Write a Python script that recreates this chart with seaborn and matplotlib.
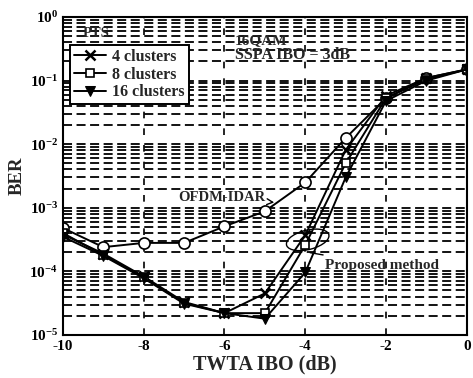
import numpy as np
import pandas as pd
import matplotlib
matplotlib.use("Agg")
import matplotlib.pyplot as plt
import seaborn as sns
from matplotlib.patches import Ellipse
from matplotlib.ticker import FixedLocator, LogLocator, NullFormatter

# TWTA input back-off (dB)
ibo = [-10, -9, -8, -7, -6, -5, -4, -3, -2, -1, 0]

# BER curves
ber_ofdm_idar = [4.8e-4, 2.4e-4, 2.8e-4, 2.8e-4, 5.1e-4, 8.8e-4, 2.5e-3, 1.25e-2, 5.3e-2, 1.1e-1, 1.5e-1]
ber_4_clusters = [3.8e-4, 1.9e-4, 8.3e-5, 3.3e-5, 2.2e-5, 4.5e-5, 3.7e-4, 8.1e-3, 5.8e-2, 1.1e-1, 1.5e-1]
ber_8_clusters = [4.0e-4, 1.8e-4, 8.0e-5, 3.2e-5, 2.2e-5, 2.2e-5, 2.6e-4, 5.0e-3, 5.3e-2, 1.05e-1, 1.5e-1]
ber_16_clusters = [3.5e-4, 1.75e-4, 7.8e-5, 3.1e-5, 2.2e-5, 1.8e-5, 9.6e-5, 3.0e-3, 4.8e-2, 1.0e-1, 1.5e-1]

series_labels = ["4 clusters", "8 clusters", "16 clusters"]
x_ticks = [-10, -8, -6, -4, -2, 0]
y_ticks = [1e-5, 1e-4, 1e-3, 1e-2, 1e-1, 1e0]
y_tick_labels = [r"$\mathbf{10^{-5}}$", r"$\mathbf{10^{-4}}$", r"$\mathbf{10^{-3}}$",
                 r"$\mathbf{10^{-2}}$", r"$\mathbf{10^{-1}}$", r"$\mathbf{10^{0}}$"]

sns.set_style("white")
plt.rcParams["font.family"] = ["Liberation Serif", "DejaVu Serif"]
plt.rcParams["mathtext.fontset"] = "custom"
plt.rcParams["mathtext.rm"] = "Liberation Serif"
plt.rcParams["mathtext.bf"] = "Liberation Serif:bold"

fig = plt.figure(figsize=(4.73, 3.78), dpi=100)
ax = fig.add_axes([0.133, 0.114, 0.854, 0.841])

# grid drawn beneath the curves
ax.set_yscale("log")
ax.set_xlim(-10, 0)
ax.set_ylim(1e-5, 1e0)
ax.yaxis.set_major_locator(FixedLocator(y_ticks))
ax.yaxis.set_minor_locator(LogLocator(base=10, subs=np.arange(2, 10), numticks=20))
ax.yaxis.set_minor_formatter(NullFormatter())
ax.set_axisbelow(True)
ax.grid(True, which="both", axis="y", color="black", linestyle=(0, (5, 2.5)), linewidth=1.3)
ax.grid(True, which="major", axis="x", color="black", linestyle=(0, (4, 6)), linewidth=1.2)

df = pd.DataFrame({"ibo": ibo, "OFDM-IDAR": ber_ofdm_idar,
                   series_labels[0]: ber_4_clusters,
                   series_labels[1]: ber_8_clusters,
                   series_labels[2]: ber_16_clusters})

line_kw = dict(color="black", linewidth=1.4, ax=ax)
sns.lineplot(data=df, x="ibo", y="OFDM-IDAR", marker="o", markersize=8,
             markerfacecolor="white", markeredgecolor="black", markeredgewidth=1.2,
             legend=False, **line_kw)
sns.lineplot(data=df, x="ibo", y=series_labels[0], marker="x", markersize=7,
             markeredgecolor="black", markeredgewidth=1.8, label=series_labels[0], **line_kw)
sns.lineplot(data=df, x="ibo", y=series_labels[1], marker="s", markersize=6,
             markerfacecolor="white", markeredgecolor="black", markeredgewidth=1.2,
             label=series_labels[1], **line_kw)
sns.lineplot(data=df, x="ibo", y=series_labels[2], marker="v", markersize=7,
             markerfacecolor="black", markeredgecolor="black",
             label=series_labels[2], **line_kw)

ax.set_xticks(x_ticks)
ax.set_xticklabels([str(t) for t in x_ticks], fontweight="bold", fontsize=11)
ax.set_yticks(y_ticks)
ax.set_yticklabels(y_tick_labels, fontsize=11)
ax.tick_params(axis="both", which="major", direction="in", length=4, width=1.2, colors="black")
ax.tick_params(axis="y", which="minor", left=False)
ax.set_xlabel("TWTA IBO (dB)", fontsize=14.5, fontweight="bold", labelpad=1)
ax.set_ylabel("BER", fontsize=13.5, fontweight="bold", labelpad=3)
for sp in ax.spines.values():
    sp.set_color("black")
    sp.set_linewidth(1.5)

leg = ax.legend(loc="upper left", bbox_to_anchor=(0.017, 0.912), borderaxespad=0,
                prop={"weight": "bold", "size": 11.5}, frameon=True, fancybox=False,
                handlelength=2.0, labelspacing=0.1, borderpad=0.25, handletextpad=0.4)
leg.get_frame().set_edgecolor("black")
leg.get_frame().set_linewidth(1.4)
leg.get_frame().set_alpha(1)

# annotations
ax.text(-9.5, 0.56, "PTS", fontsize=10.5, fontweight="bold", va="center", ha="left")
ax.text(-5.75, 0.43, "16QAM", fontsize=11, fontweight="bold", va="center", ha="left")
ax.text(-5.75, 0.25, "SSPA IBO = 3dB", fontsize=11.5, fontweight="bold", va="center", ha="left")
ax.annotate("OFDM-IDAR", xy=(-4.7, 1.2e-3), xytext=(-7.15, 1.47e-3),
            fontsize=10.5, fontweight="bold", va="center", ha="left",
            arrowprops=dict(arrowstyle="->", color="black", lw=1.0))
ax.add_patch(Ellipse((0.606, 0.299), 0.11, 0.06, angle=20, transform=ax.transAxes,
                     fill=False, edgecolor="black", linewidth=1.0))
ax.annotate("Proposed method", xy=(-3.95, 2.0e-4), xytext=(-3.5, 1.25e-4),
            fontsize=11, fontweight="bold", va="center", ha="left",
            arrowprops=dict(arrowstyle="-", color="black", lw=1.0))

fig.savefig("out.png", dpi=100)
